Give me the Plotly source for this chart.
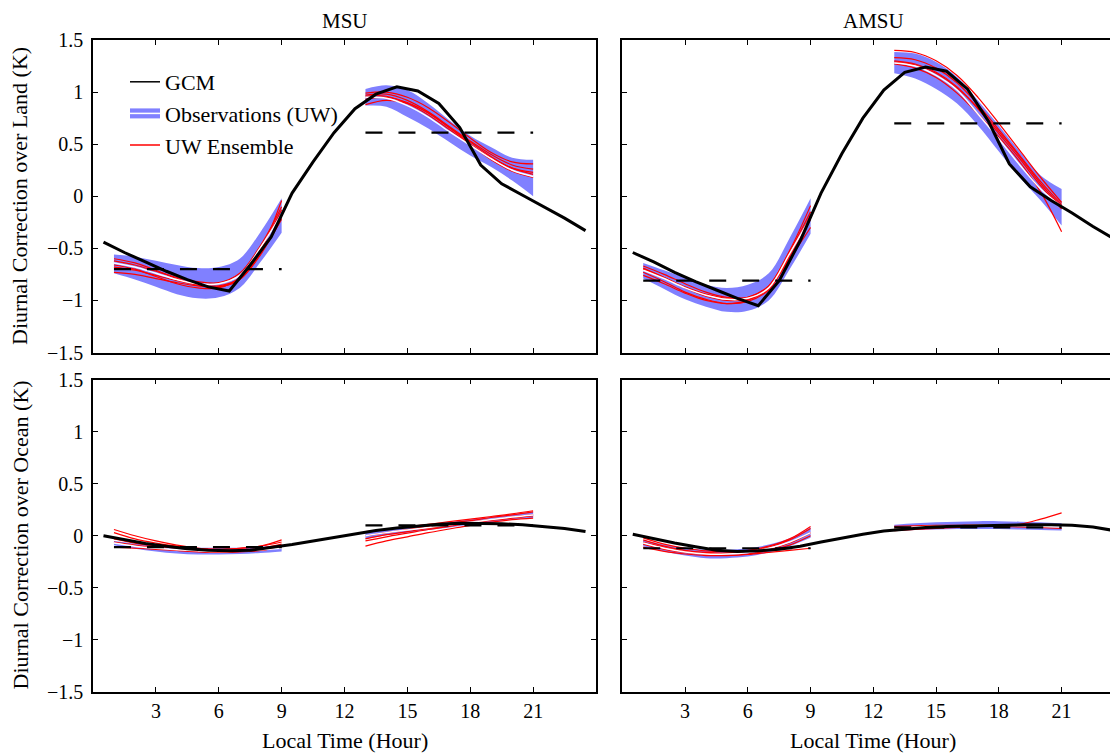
import plotly.graph_objects as go
from plotly.subplots import make_subplots

# hours
GCM_HOURS = [0.5, 1.5, 2.5, 3.5, 4.5, 5.5, 6.5, 7.5, 8.5, 9.5, 10.5, 11.5,
             12.5, 13.5, 14.5, 15.5, 16.5, 17.5, 18.5, 19.5, 20.5, 21.5, 22.5, 23.5]
AM_HOURS = [1, 2, 3, 4, 5, 6, 7, 8, 9]
PM_HOURS = [13, 14, 15, 16, 17, 18, 19, 20, 21]
X_TICKS = [3, 6, 9, 12, 15, 18, 21]
Y_TICKS = [-1.5, -1, -0.5, 0, 0.5, 1, 1.5]

# GCM diurnal correction (hourly)
gcm_msu_land = [-0.44, -0.54, -0.63, -0.72, -0.80, -0.87, -0.91, -0.66, -0.39, 0.03, 0.33, 0.61,
                0.84, 0.98, 1.05, 1.01, 0.89, 0.66, 0.30, 0.12, 0.01, -0.10, -0.21, -0.33]
gcm_amsu_land = [-0.54, -0.63, -0.73, -0.82, -0.90, -0.98, -1.05, -0.81, -0.43, 0.03, 0.41, 0.75,
                 1.02, 1.19, 1.24, 1.20, 1.03, 0.72, 0.31, 0.09, -0.04, -0.16, -0.29, -0.41]
gcm_msu_ocean = [0.00, -0.04, -0.075, -0.10, -0.125, -0.14, -0.145, -0.14, -0.115, -0.085, -0.05, -0.015,
                 0.02, 0.05, 0.075, 0.095, 0.11, 0.12, 0.12, 0.115, 0.105, 0.09, 0.07, 0.04]
gcm_amsu_ocean = [0.015, -0.03, -0.07, -0.105, -0.14, -0.15, -0.145, -0.13, -0.10, -0.06, -0.02, 0.015,
                  0.045, 0.065, 0.08, 0.09, 0.095, 0.10, 0.10, 0.105, 0.105, 0.10, 0.085, 0.05]

# Observations (UW): centre, upper, lower  -- MSU land
obs_msu_land_am = [-0.64, -0.68, -0.74, -0.80, -0.84, -0.84, -0.76, -0.49, -0.17]
obs_msu_land_am_hi = [-0.56, -0.58, -0.62, -0.66, -0.69, -0.68, -0.60, -0.34, -0.02]
obs_msu_land_am_lo = [-0.74, -0.80, -0.87, -0.94, -0.98, -0.97, -0.88, -0.63, -0.35]
obs_msu_land_pm = [0.95, 0.94, 0.87, 0.76, 0.62, 0.49, 0.36, 0.25, 0.19]
obs_msu_land_pm_hi = [1.03, 1.065, 1.02, 0.89, 0.73, 0.58, 0.47, 0.37, 0.35]
obs_msu_land_pm_lo = [0.87, 0.86, 0.76, 0.65, 0.52, 0.39, 0.28, 0.15, 0.0]

# AMSU land
obs_amsu_land_am = [-0.71, -0.79, -0.88, -0.95, -0.99, -0.98, -0.88, -0.55, -0.20]
obs_amsu_land_am_hi = [-0.64, -0.71, -0.78, -0.85, -0.88, -0.85, -0.74, -0.40, -0.02]
obs_amsu_land_am_lo = [-0.79, -0.89, -0.99, -1.06, -1.11, -1.10, -1.00, -0.70, -0.36]
obs_amsu_land_pm = [1.28, 1.25, 1.16, 1.02, 0.79, 0.55, 0.30, 0.07, -0.10]
obs_amsu_land_pm_hi = [1.385, 1.37, 1.29, 1.145, 0.92, 0.68, 0.43, 0.20, 0.07]
obs_amsu_land_pm_lo = [1.18, 1.13, 1.03, 0.89, 0.68, 0.43, 0.18, -0.04, -0.28]

# MSU ocean
obs_msu_ocean_am = [-0.07, -0.10, -0.12, -0.135, -0.145, -0.15, -0.145, -0.135, -0.12]
obs_msu_ocean_am_hi = [-0.05, -0.075, -0.095, -0.105, -0.115, -0.115, -0.115, -0.105, -0.09]
obs_msu_ocean_am_lo = [-0.09, -0.125, -0.15, -0.17, -0.18, -0.18, -0.175, -0.165, -0.15]
obs_msu_ocean_pm = [0.00, 0.03, 0.055, 0.08, 0.105, 0.13, 0.155, 0.18, 0.20]
obs_msu_ocean_pm_hi = [0.03, 0.055, 0.08, 0.105, 0.13, 0.155, 0.18, 0.205, 0.23]
obs_msu_ocean_pm_lo = [-0.03, 0.005, 0.03, 0.055, 0.08, 0.105, 0.13, 0.155, 0.17]

# AMSU ocean
obs_amsu_ocean_am = [-0.07, -0.12, -0.155, -0.175, -0.175, -0.16, -0.12, -0.06, 0.03]
obs_amsu_ocean_am_hi = [-0.04, -0.085, -0.115, -0.135, -0.135, -0.12, -0.085, -0.025, 0.08]
obs_amsu_ocean_am_lo = [-0.10, -0.15, -0.19, -0.215, -0.215, -0.20, -0.16, -0.10, -0.02]
obs_amsu_ocean_pm = [0.075, 0.085, 0.09, 0.095, 0.10, 0.10, 0.095, 0.09, 0.085]
obs_amsu_ocean_pm_hi = [0.105, 0.12, 0.13, 0.135, 0.14, 0.14, 0.135, 0.13, 0.12]
obs_amsu_ocean_pm_lo = [0.05, 0.055, 0.06, 0.065, 0.065, 0.065, 0.06, 0.055, 0.05]

# UW ensemble members
ens_msu_land_am = [
    [-0.60, -0.64, -0.71, -0.79, -0.85, -0.87, -0.80, -0.52, -0.04],
    [-0.62, -0.66, -0.72, -0.78, -0.82, -0.83, -0.74, -0.47, -0.10],
    [-0.68, -0.71, -0.76, -0.81, -0.85, -0.86, -0.79, -0.55, -0.22],
    [-0.73, -0.75, -0.79, -0.83, -0.86, -0.87, -0.80, -0.56, -0.20],
    [-0.66, -0.70, -0.77, -0.84, -0.88, -0.88, -0.78, -0.50, -0.13],
]
ens_msu_land_pm = [
    [0.99, 1.00, 0.95, 0.85, 0.71, 0.56, 0.42, 0.33, 0.31],
    [0.97, 0.98, 0.92, 0.81, 0.67, 0.53, 0.40, 0.30, 0.26],
    [0.93, 0.95, 0.90, 0.80, 0.66, 0.52, 0.38, 0.27, 0.21],
    [0.88, 0.92, 0.89, 0.80, 0.66, 0.50, 0.35, 0.24, 0.18],
    [0.96, 0.96, 0.89, 0.78, 0.64, 0.50, 0.37, 0.27, 0.23],
]
ens_amsu_land_am = [
    [-0.67, -0.75, -0.84, -0.92, -0.97, -0.97, -0.86, -0.52, -0.09],
    [-0.70, -0.78, -0.87, -0.94, -0.98, -0.97, -0.86, -0.53, -0.15],
    [-0.73, -0.82, -0.92, -0.99, -1.03, -1.01, -0.90, -0.58, -0.22],
    [-0.76, -0.84, -0.93, -1.00, -1.03, -1.00, -0.88, -0.60, -0.30],
    [-0.69, -0.78, -0.88, -0.96, -1.00, -0.99, -0.89, -0.56, -0.18],
]
ens_amsu_land_pm = [
    [1.40, 1.38, 1.30, 1.16, 0.95, 0.70, 0.44, 0.18, -0.06],
    [1.33, 1.31, 1.23, 1.09, 0.88, 0.64, 0.39, 0.14, -0.08],
    [1.30, 1.27, 1.19, 1.05, 0.84, 0.60, 0.36, 0.10, -0.12],
    [1.27, 1.23, 1.14, 0.99, 0.79, 0.57, 0.33, 0.04, -0.34],
    [1.29, 1.26, 1.18, 1.04, 0.85, 0.62, 0.38, 0.12, -0.10],
]
ens_msu_ocean_am = [
    [0.06, 0.00, -0.05, -0.09, -0.12, -0.13, -0.12, -0.10, -0.04],
    [0.03, -0.03, -0.07, -0.10, -0.12, -0.13, -0.12, -0.10, -0.06],
    [-0.03, -0.07, -0.10, -0.12, -0.14, -0.15, -0.14, -0.12, -0.08],
    [-0.06, -0.09, -0.12, -0.14, -0.155, -0.16, -0.155, -0.14, -0.11],
    [-0.11, -0.12, -0.13, -0.14, -0.15, -0.155, -0.15, -0.14, -0.11],
]
ens_msu_ocean_pm = [
    [0.04, 0.06, 0.085, 0.11, 0.135, 0.16, 0.185, 0.21, 0.24],
    [0.00, 0.03, 0.06, 0.09, 0.12, 0.145, 0.175, 0.20, 0.23],
    [-0.03, 0.01, 0.04, 0.07, 0.10, 0.13, 0.155, 0.18, 0.20],
    [-0.05, -0.01, 0.025, 0.06, 0.09, 0.12, 0.145, 0.17, 0.19],
    [-0.10, -0.05, -0.01, 0.03, 0.065, 0.10, 0.13, 0.155, 0.17],
]
ens_amsu_ocean_am = [
    [-0.02, -0.08, -0.12, -0.145, -0.15, -0.14, -0.10, -0.03, 0.09],
    [-0.04, -0.10, -0.14, -0.16, -0.165, -0.15, -0.11, -0.04, 0.07],
    [-0.06, -0.11, -0.15, -0.17, -0.17, -0.16, -0.13, -0.07, 0.03],
    [-0.08, -0.13, -0.16, -0.18, -0.185, -0.175, -0.14, -0.09, 0.00],
    [-0.11, -0.15, -0.175, -0.19, -0.19, -0.18, -0.16, -0.14, -0.12],
]
ens_amsu_ocean_pm = [
    [0.09, 0.095, 0.10, 0.10, 0.105, 0.105, 0.105, 0.10, 0.10],
    [0.08, 0.085, 0.09, 0.095, 0.095, 0.10, 0.10, 0.10, 0.10],
    [0.06, 0.07, 0.08, 0.085, 0.09, 0.095, 0.10, 0.10, 0.10],
    [0.07, 0.075, 0.08, 0.085, 0.09, 0.09, 0.085, 0.08, 0.07],
    [0.05, 0.06, 0.07, 0.08, 0.09, 0.095, 0.11, 0.16, 0.22],
]

# GCM mean over each sampling window (dashed)
mean_msu_land = [-0.70, 0.61]
mean_amsu_land = [-0.81, 0.70]
mean_msu_ocean = [-0.11, 0.10]
mean_amsu_ocean = [-0.12, 0.08]

BLUE = '#8080ff'
FONT = 'Liberation Serif'

panels = [
    dict(row=1, col=1, gcm=gcm_msu_land, mean=mean_msu_land,
         am=(obs_msu_land_am, obs_msu_land_am_hi, obs_msu_land_am_lo, ens_msu_land_am),
         pm=(obs_msu_land_pm, obs_msu_land_pm_hi, obs_msu_land_pm_lo, ens_msu_land_pm)),
    dict(row=1, col=2, gcm=gcm_amsu_land, mean=mean_amsu_land,
         am=(obs_amsu_land_am, obs_amsu_land_am_hi, obs_amsu_land_am_lo, ens_amsu_land_am),
         pm=(obs_amsu_land_pm, obs_amsu_land_pm_hi, obs_amsu_land_pm_lo, ens_amsu_land_pm)),
    dict(row=2, col=1, gcm=gcm_msu_ocean, mean=mean_msu_ocean,
         am=(obs_msu_ocean_am, obs_msu_ocean_am_hi, obs_msu_ocean_am_lo, ens_msu_ocean_am),
         pm=(obs_msu_ocean_pm, obs_msu_ocean_pm_hi, obs_msu_ocean_pm_lo, ens_msu_ocean_pm)),
    dict(row=2, col=2, gcm=gcm_amsu_ocean, mean=mean_amsu_ocean,
         am=(obs_amsu_ocean_am, obs_amsu_ocean_am_hi, obs_amsu_ocean_am_lo, ens_amsu_ocean_am),
         pm=(obs_amsu_ocean_pm, obs_amsu_ocean_pm_hi, obs_amsu_ocean_pm_lo, ens_amsu_ocean_pm)),
]

fig = make_subplots(rows=2, cols=2)

for p in panels:
    r, c = p['row'], p['col']
    fig.add_hline(y=0, row=r, col=c, layer='below',
                  line=dict(color='black', width=1.5, dash='2px,10.5px'))
    for hours, seg, lvl in ((AM_HOURS, p['am'], p['mean'][0]), (PM_HOURS, p['pm'], p['mean'][1])):
        centre, hi, lo, members = seg
        fig.add_trace(go.Scatter(x=hours, y=hi, mode='lines', line=dict(width=0, shape='spline'),
                                 showlegend=False, hoverinfo='skip'), row=r, col=c)
        fig.add_trace(go.Scatter(x=hours, y=lo, mode='lines', line=dict(width=0, shape='spline'),
                                 fill='tonexty', fillcolor=BLUE, showlegend=False), row=r, col=c)
        for m in members:
            fig.add_trace(go.Scatter(x=hours, y=m, mode='lines',
                                     line=dict(color='red', width=1.2, shape='spline'),
                                     showlegend=False), row=r, col=c)
        fig.add_trace(go.Scatter(x=hours, y=centre, mode='lines',
                                 line=dict(color='white', width=1.5, shape='spline'),
                                 showlegend=False), row=r, col=c)
        fig.add_trace(go.Scatter(x=[hours[0], hours[-1]], y=[lvl, lvl], mode='lines',
                                 line=dict(color='black', width=2.2, dash='17px,16px'),
                                 showlegend=False), row=r, col=c)
    fig.add_trace(go.Scatter(x=GCM_HOURS, y=p['gcm'], mode='lines',
                             line=dict(color='black', width=3), showlegend=False), row=r, col=c)

# legend entries (top-left panel)
fig.add_trace(go.Scatter(x=[None], y=[None], mode='lines', name='GCM',
                         line=dict(color='black', width=1.5)), row=1, col=1)
fig.add_trace(go.Scatter(x=[None], y=[None], mode='lines', name='Observations (UW)',
                         line=dict(color=BLUE, width=10)), row=1, col=1)
fig.add_trace(go.Scatter(x=[None], y=[None], mode='lines', name='UW Ensemble',
                         line=dict(color='red', width=1.5)), row=1, col=1)
# white centre line of the observation glyph, overlaid in a second legend
fig.add_trace(go.Scatter(x=[None], y=[None], mode='lines', name=' ', legend='legend2',
                         line=dict(color='rgba(0,0,0,0)', width=1)), row=1, col=1)
fig.add_trace(go.Scatter(x=[None], y=[None], mode='lines', name=' ', legend='legend2',
                         line=dict(color='white', width=1.5)), row=1, col=1)

# the page body adds an 8px offset, so the figure is 8px smaller and positions shift by 8
OFF = 8
W, H = 1118 - OFF, 753 - OFF
L, R, T, B = 93 - OFF, 0, 40 - OFF, 61
PW, PH = W - L - R, H - T - B


def px_x(v):
    return (v - OFF - L) / PW


def px_y(v):
    return (H - B - (v - OFF)) / PH


axis_common = dict(showline=True, linecolor='black', linewidth=1.5, ticks='inside', ticklen=5,
                   tickwidth=1, tickcolor='black', showgrid=False, zeroline=False,
                   tickfont=dict(family=FONT, size=20, color='black'))

x_dom = {1: [0, px_x(596)], 2: [px_x(622.3), 1]}
x_rng = {1: [0, 24], 2: [0, (1118 - 622.3) / 20.92]}
y_dom = {1: [px_y(352.5), 1], 2: [0, px_y(379.5)]}

for p in panels:
    r, c = p['row'], p['col']
    fig.update_xaxes(axis_common, domain=x_dom[c], range=x_rng[c], tickvals=X_TICKS,
                     mirror='ticks', showticklabels=(r == 2), ticklabelstandoff=0, row=r, col=c)
    fig.update_yaxes(axis_common, domain=y_dom[r], range=[-1.5, 1.5], tickvals=Y_TICKS,
                     mirror='ticks' if c == 1 else False, showticklabels=(c == 1),
                     ticklabelstandoff=4, row=r, col=c)

legend_font = dict(family=FONT, size=22, color='black')
legend_box = dict(x=px_x(125), y=px_y(61), xanchor='left', yanchor='top', bgcolor='rgba(0,0,0,0)',
                  font=legend_font, tracegroupgap=0, traceorder='normal')
fig.update_layout(
    width=W, height=H, autosize=False,
    margin=dict(l=L, r=R, t=T, b=B),
    paper_bgcolor='white', plot_bgcolor='white',
    font=dict(family=FONT, size=20, color='black'),
    legend=legend_box,
    legend2=legend_box,
)

ann = dict(showarrow=False, xref='paper', yref='paper', font=dict(family=FONT, size=22, color='black'))
# panel titles, anchored at the top edge of the figure so they are not clipped
fig.add_annotation(ann, text='MSU', x=px_x(344.5), y=px_y(OFF), xanchor='center', yanchor='top',
                   font_size=21, borderpad=0)
fig.add_annotation(ann, text='AMSU', x=px_x(873), y=px_y(OFF), xanchor='center', yanchor='top',
                   font_size=21, borderpad=0)
fig.add_annotation(ann, text='Local Time (Hour)', x=px_x(344.5), y=px_y(740), xanchor='center', yanchor='middle')
fig.add_annotation(ann, text='Local Time (Hour)', x=px_x(873), y=px_y(740), xanchor='center', yanchor='middle')
fig.add_annotation(ann, text='Diurnal Correction over Land (K)', textangle=-90,
                   x=px_x(20), y=px_y(196), xanchor='center', yanchor='middle')
fig.add_annotation(ann, text='Diurnal Correction over Ocean (K)', textangle=-90,
                   x=px_x(20), y=px_y(535.5), xanchor='center', yanchor='middle')

fig.write_html("out.html")
